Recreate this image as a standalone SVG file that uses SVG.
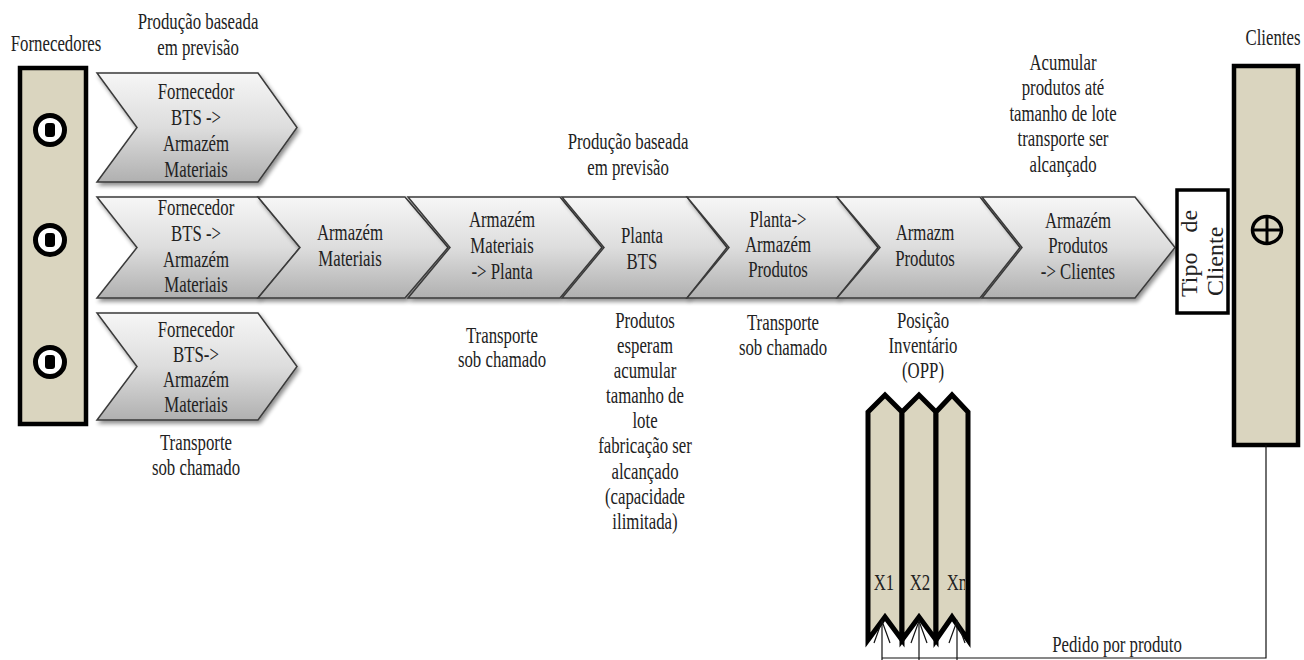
<svg xmlns="http://www.w3.org/2000/svg" width="1304" height="660" viewBox="0 0 1304 660">
  <defs>
    <linearGradient id="chev" x1="0" y1="0" x2="0" y2="1">
      <stop offset="0" stop-color="#f6f6f6"/>
      <stop offset="0.5" stop-color="#dddddd"/>
      <stop offset="1" stop-color="#b0b0b0"/>
    </linearGradient>
    <filter id="shadow" x="-10%" y="-10%" width="125%" height="130%">
      <feGaussianBlur in="SourceAlpha" stdDeviation="2"/>
      <feOffset dx="2" dy="3" result="b"/>
      <feComponentTransfer><feFuncA type="linear" slope="0.45"/></feComponentTransfer>
      <feMerge><feMergeNode/><feMergeNode in="SourceGraphic"/></feMerge>
    </filter>
    <!-- keeps the column labels inside the column strip -->
    <clipPath id="colclip">
      <rect x="868" y="395" width="97" height="245"/>
    </clipPath>
  </defs>
  <style>
    /* tall, narrow serif lettering: 24px glyphs squeezed to ~17px widths */
    .t { font-family: "Liberation Serif", "Times New Roman", serif; font-size: 24px; fill: #222; text-anchor: middle; }
    .tr { font-family: "Liberation Serif", "Times New Roman", serif; font-size: 24px; fill: #222; }
    .chev { fill: url(#chev); stroke: #3a3a3a; stroke-width: 1.5; filter: url(#shadow); }
    .panel { fill: #dad5bf; stroke: #000; stroke-width: 4.5; }
    .col { fill: #dad5bf; stroke: #000; stroke-width: 5; stroke-linejoin: miter; }
    .sym { fill: #fff; stroke: #000; stroke-width: 5; }
    .wire { fill: none; stroke: #111; stroke-width: 1.2; }
  </style>

  <!-- suppliers panel -->
  <g id="fornecedores">
    <text class="t" transform="translate(56,51) scale(0.7,1)">Fornecedores</text>
    <rect class="panel" x="20" y="68" width="66" height="356"/>
    <circle class="sym" cx="50" cy="130" r="14.5"/>
    <rect x="45" y="123" width="10" height="14" rx="3" fill="#000"/>
    <circle class="sym" cx="50" cy="240" r="14.5"/>
    <rect x="45" y="233" width="10" height="14" rx="3" fill="#000"/>
    <circle class="sym" cx="50" cy="362" r="14.5"/>
    <rect x="45" y="355" width="10" height="14" rx="3" fill="#000"/>
  </g>

  <!-- annotation above top supplier chevron -->
  <g id="nota-previsao-1">
    <text class="t" transform="translate(198,29) scale(0.7,1)"><tspan x="0" y="0">Produção baseada</tspan><tspan x="0" dy="26">em previsão</tspan></text>
  </g>

  <!-- top supplier chevron -->
  <g id="fornecedor-a">
    <path class="chev" d="M97,73 L258,73 L297,127.5 L258,182 L97,182 L137,127.5 Z"/>
    <text class="t" transform="translate(196,99) scale(0.7,1)"><tspan x="0" y="0">Fornecedor</tspan><tspan x="0" dy="26">BTS -&gt;</tspan><tspan x="0" dy="26">Armazém</tspan><tspan x="0" dy="26">Materiais</tspan></text>
  </g>

  <!-- main flow -->
  <g id="fornecedor-b">
    <path class="chev" d="M97,197 L258,197 L300,247.5 L258,298 L97,298 L137,247.5 Z"/>
    <text class="t" transform="translate(196,215) scale(0.7,1)"><tspan x="0" y="0">Fornecedor</tspan><tspan x="0" dy="26">BTS -&gt;</tspan><tspan x="0" dy="26">Armazém</tspan><tspan x="0" dy="25">Materiais</tspan></text>
  </g>

  <g id="armazem-materiais">
    <path class="chev" d="M258,197 L405,197 L448,247.5 L405,298 L258,298 L300,247.5 Z"/>
    <text class="t" transform="translate(350,240) scale(0.7,1)"><tspan x="0" y="0">Armazém</tspan><tspan x="0" dy="26.5">Materiais</tspan></text>
  </g>

  <g id="transporte-planta">
    <path class="chev" d="M408,197 L560,197 L602,247.5 L560,298 L408,298 L450,247.5 Z"/>
    <text class="t" transform="translate(502,227) scale(0.7,1)"><tspan x="0" y="0">Armazém</tspan><tspan x="0" dy="26">Materiais</tspan><tspan x="0" dy="26">-&gt; Planta</tspan></text>
    <text class="t" transform="translate(502,343) scale(0.7,1)"><tspan x="0" y="0">Transporte</tspan><tspan x="0" dy="24.5">sob chamado</tspan></text>
  </g>

  <g id="planta-bts">
    <text class="t" transform="translate(628,149) scale(0.7,1)"><tspan x="0" y="0">Produção baseada</tspan><tspan x="0" dy="26">em previsão</tspan></text>
    <path class="chev" d="M562,197 L687,197 L727,247.5 L687,298 L562,298 L604,247.5 Z"/>
    <text class="t" transform="translate(642,243) scale(0.7,1)"><tspan x="0" y="0">Planta</tspan><tspan x="0" dy="26">BTS</tspan></text>
    <text class="t" transform="translate(645,328) scale(0.7,1)"><tspan x="0" y="0">Produtos</tspan><tspan x="0" dy="25.1">esperam</tspan><tspan x="0" dy="25.1">acumular</tspan><tspan x="0" dy="25.1">tamanho de</tspan><tspan x="0" dy="25.1">lote</tspan><tspan x="0" dy="25.1">fabricação ser</tspan><tspan x="0" dy="25.1">alcançado</tspan><tspan x="0" dy="25.1">(capacidade</tspan><tspan x="0" dy="25.1">ilimitada)</tspan></text>
  </g>

  <g id="transporte-armazem-produtos">
    <path class="chev" d="M687,197 L837,197 L878,247.5 L837,298 L687,298 L729,247.5 Z"/>
    <text class="t" transform="translate(778,227) scale(0.7,1)"><tspan x="0" y="0">Planta-&gt;</tspan><tspan x="0" dy="25">Armazém</tspan><tspan x="0" dy="25">Produtos</tspan></text>
    <text class="t" transform="translate(783,330) scale(0.7,1)"><tspan x="0" y="0">Transporte</tspan><tspan x="0" dy="25">sob chamado</tspan></text>
  </g>

  <g id="armazem-produtos">
    <path class="chev" d="M837,197 L980,197 L1020,247.5 L980,298 L837,298 L880,247.5 Z"/>
    <text class="t" transform="translate(925,240) scale(0.7,1)"><tspan x="0" y="0">Armazm</tspan><tspan x="0" dy="26">Produtos</tspan></text>
    <text class="t" transform="translate(923,328) scale(0.7,1)"><tspan x="0" y="0">Posição</tspan><tspan x="0" dy="25">Inventário</tspan><tspan x="0" dy="25">(OPP)</tspan></text>
  </g>

  <g id="transporte-clientes">
    <text class="t" transform="translate(1063,70) scale(0.7,1)"><tspan x="0" y="0">Acumular</tspan><tspan x="0" dy="25.5">produtos até</tspan><tspan x="0" dy="25.5">tamanho de lote</tspan><tspan x="0" dy="25.5">transporte  ser</tspan><tspan x="0" dy="25.5">alcançado</tspan></text>
    <path class="chev" d="M982,197 L1135,197 L1175,247.5 L1135,298 L982,298 L1022,247.5 Z"/>
    <text class="t" transform="translate(1078,228) scale(0.7,1)"><tspan x="0" y="0">Armazém</tspan><tspan x="0" dy="25.5">Produtos</tspan><tspan x="0" dy="25.5">-&gt; Clientes</tspan></text>
  </g>

  <!-- bottom supplier chevron -->
  <g id="fornecedor-c">
    <path class="chev" d="M97,313 L258,313 L297,366.5 L258,420 L97,420 L137,366.5 Z"/>
    <text class="t" transform="translate(196,337) scale(0.7,1)"><tspan x="0" y="0">Fornecedor</tspan><tspan x="0" dy="25">BTS-&gt;</tspan><tspan x="0" dy="25">Armazém</tspan><tspan x="0" dy="25">Materiais</tspan></text>
    <text class="t" transform="translate(196,450) scale(0.7,1)"><tspan x="0" y="0">Transporte</tspan><tspan x="0" dy="25">sob chamado</tspan></text>
  </g>

  <!-- customer type box -->
  <g id="tipo-cliente">
    <rect x="1177" y="190" width="51" height="123" fill="#fff" stroke="#000" stroke-width="3.5"/>
    <text class="tr" transform="translate(1197,297) rotate(-90)" style="word-spacing:14px">Tipo de</text>
    <text class="tr" transform="translate(1223,296) rotate(-90)">Cliente</text>
  </g>

  <!-- customers panel -->
  <g id="clientes">
    <text class="t" transform="translate(1273,45) scale(0.7,1)">Clientes</text>
    <rect class="panel" x="1234" y="66" width="64" height="379"/>
    <ellipse cx="1267" cy="230" rx="14.5" ry="13.5" fill="none" stroke="#000" stroke-width="3.5"/>
    <line x1="1267" y1="216" x2="1267" y2="244" stroke="#000" stroke-width="3"/>
    <line x1="1252" y1="230" x2="1282" y2="230" stroke="#000" stroke-width="3"/>
  </g>

  <!-- inventory positions -->
  <g id="inventario">
    <polygon class="col" points="868,412 885,395 902,412 902,640 885,617 868,640"/>
    <polygon class="col" points="902,412 919,395 936,412 936,640 919,617 902,640"/>
    <polygon class="col" points="936,412 952,395 968,412 968,640 952,617 936,640"/>
    <g clip-path="url(#colclip)">
      <text class="t" transform="translate(884,590) scale(0.7,1)">X1</text>
      <text class="t" transform="translate(920,590) scale(0.7,1)">X2</text>
      <text class="t" transform="translate(957,590) scale(0.7,1)">Xn</text>
    </g>
  </g>

  <!-- order signal lines -->
  <g id="conectores">
    <polyline class="wire" points="1266,445 1266,658 882,658"/>
    <line class="wire" x1="882" y1="660" x2="882" y2="621"/>
    <polyline class="wire" points="874,643 882,621 890,643"/>
    <line class="wire" x1="919" y1="660" x2="919" y2="621"/>
    <polyline class="wire" points="911,643 919,621 927,643"/>
    <line class="wire" x1="957" y1="660" x2="957" y2="621"/>
    <polyline class="wire" points="949,643 957,621 965,643"/>
    <text class="t" transform="translate(1117,652) scale(0.7,1)">Pedido por produto</text>
  </g>
</svg>
